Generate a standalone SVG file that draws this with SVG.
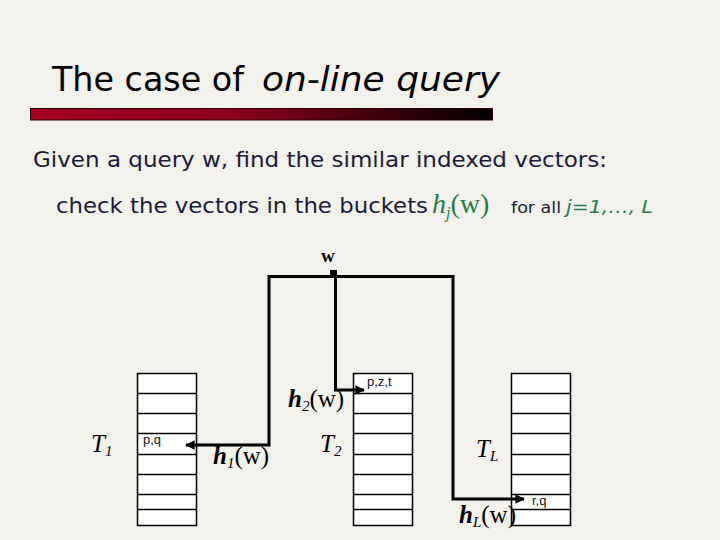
<svg xmlns="http://www.w3.org/2000/svg" width="720" height="540" viewBox="0 0 720 540">
<defs>
<linearGradient id="bar" x1="0" y1="0" x2="1" y2="0">
<stop offset="0" stop-color="#a3001f"/>
<stop offset="0.45" stop-color="#8a0019"/>
<stop offset="1" stop-color="#000000"/>
</linearGradient>
<marker id="ah" viewBox="0 0 10 10" refX="9" refY="5" markerWidth="3.4" markerHeight="3.2" orient="auto" markerUnits="strokeWidth">
<path d="M0,0 L10,5 L0,10 z" fill="#000"/>
</marker>
<style>
.sans{font-family:"DejaVu Sans","Noto Sans",sans-serif;}
.ser{font-family:"Liberation Serif","Times New Roman",serif;fill:#000;}
.body{fill:#1c1b3a;}
.green{fill:#2b7a4b;}
.cell{font-family:"Liberation Sans",Arial,sans-serif;font-size:13px;fill:#111;}
.tbl rect{fill:#fff;stroke:#000;stroke-width:1.5;}
.tbl line{stroke:#000;stroke-width:1.5;}
.conn{fill:none;stroke:#000;stroke-width:3;}
</style>
</defs>
<rect width="720" height="540" fill="#f2f1ec"/>

<g id="title">
<text class="sans" x="52" y="91" font-size="33" fill="#000" textLength="192" lengthAdjust="spacingAndGlyphs">The case of</text>
<text class="sans" x="262" y="91" font-size="33" font-style="italic" fill="#000" textLength="238" lengthAdjust="spacingAndGlyphs">on-line query</text>
<rect x="30.5" y="108.5" width="462" height="11.5" fill="url(#bar)" stroke="#2a0008" stroke-width="1"/>
</g>

<g id="text-lines">
<text class="sans body" x="33" y="167" font-size="21" textLength="574" lengthAdjust="spacingAndGlyphs">Given a query w, find the similar indexed vectors:</text>
<text class="sans body" x="56" y="213" font-size="21" textLength="372" lengthAdjust="spacingAndGlyphs">check the vectors in the buckets</text>
<text class="ser green" x="432" y="213" font-size="28" style="fill:#2b7a4b"><tspan font-style="italic">h</tspan><tspan font-style="italic" font-size="16" dy="5">j</tspan><tspan dy="-5">(w)</tspan></text>
<text class="sans body" x="511" y="213" font-size="16" textLength="50" lengthAdjust="spacingAndGlyphs">for all</text>
<text class="sans green" x="566" y="213" font-size="18" font-style="italic" textLength="87" lengthAdjust="spacingAndGlyphs">j=1,…, L</text>
</g>

<g id="T1" class="tbl">
<rect x="137.5" y="373.5" width="59" height="152"/>
<line x1="137.5" y1="393.5" x2="196.5" y2="393.5"/>
<line x1="137.5" y1="413.5" x2="196.5" y2="413.5"/>
<line x1="137.5" y1="433.5" x2="196.5" y2="433.5"/>
<line x1="137.5" y1="454.5" x2="196.5" y2="454.5"/>
<line x1="137.5" y1="474.5" x2="196.5" y2="474.5"/>
<line x1="137.5" y1="494.5" x2="196.5" y2="494.5"/>
<line x1="137.5" y1="509.5" x2="196.5" y2="509.5"/>
<text class="cell" x="143" y="444">p,q</text>
<text class="ser" x="91" y="452" font-size="25" font-style="italic">T<tspan font-size="15" dy="4">1</tspan></text>
</g>

<g id="T2" class="tbl">
<rect x="353.5" y="373.5" width="59" height="152"/>
<line x1="353.5" y1="393.5" x2="412.5" y2="393.5"/>
<line x1="353.5" y1="413.5" x2="412.5" y2="413.5"/>
<line x1="353.5" y1="433.5" x2="412.5" y2="433.5"/>
<line x1="353.5" y1="454.5" x2="412.5" y2="454.5"/>
<line x1="353.5" y1="474.5" x2="412.5" y2="474.5"/>
<line x1="353.5" y1="494.5" x2="412.5" y2="494.5"/>
<line x1="353.5" y1="509.5" x2="412.5" y2="509.5"/>
<text class="cell" x="367" y="386">p,z,t</text>
<text class="ser" x="320" y="452" font-size="25" font-style="italic">T<tspan font-size="15" dy="4">2</tspan></text>
</g>

<g id="TL" class="tbl">
<rect x="511.5" y="373.5" width="59" height="152"/>
<line x1="511.5" y1="393.5" x2="570.5" y2="393.5"/>
<line x1="511.5" y1="413.5" x2="570.5" y2="413.5"/>
<line x1="511.5" y1="433.5" x2="570.5" y2="433.5"/>
<line x1="511.5" y1="454.5" x2="570.5" y2="454.5"/>
<line x1="511.5" y1="474.5" x2="570.5" y2="474.5"/>
<line x1="511.5" y1="494.5" x2="570.5" y2="494.5"/>
<line x1="511.5" y1="509.5" x2="570.5" y2="509.5"/>
<text class="cell" x="532" y="505">r,q</text>
<text class="ser" x="476" y="457" font-size="25" font-style="italic">T<tspan font-size="15" dy="4">L</tspan></text>
</g>

<g id="query">
<text class="ser" x="321" y="262" font-size="19" font-weight="bold">w</text>
<rect x="330" y="270" width="7" height="6" fill="#000"/>
</g>

<g id="connectors">
<path class="conn" d="M333.5,276.5 H269 V445 H186" marker-end="url(#ah)"/>
<path class="conn" d="M335.5,274 V390 H364" marker-end="url(#ah)"/>
<path class="conn" d="M333.5,276.5 H453 V499 H524" marker-end="url(#ah)"/>
</g>

<g id="labels">
<text class="ser" x="213" y="464" font-size="25"><tspan font-style="italic" font-weight="bold">h</tspan><tspan font-style="italic" font-size="15" dy="4">1</tspan><tspan dy="-4">(w)</tspan></text>
<text class="ser" x="288" y="407" font-size="25"><tspan font-style="italic" font-weight="bold">h</tspan><tspan font-style="italic" font-size="15" dy="4">2</tspan><tspan dy="-4">(w)</tspan></text>
<text class="ser" x="459" y="523" font-size="25"><tspan font-style="italic" font-weight="bold">h</tspan><tspan font-style="italic" font-size="15" dy="4">L</tspan><tspan dy="-4">(w)</tspan></text>
</g>
</svg>
